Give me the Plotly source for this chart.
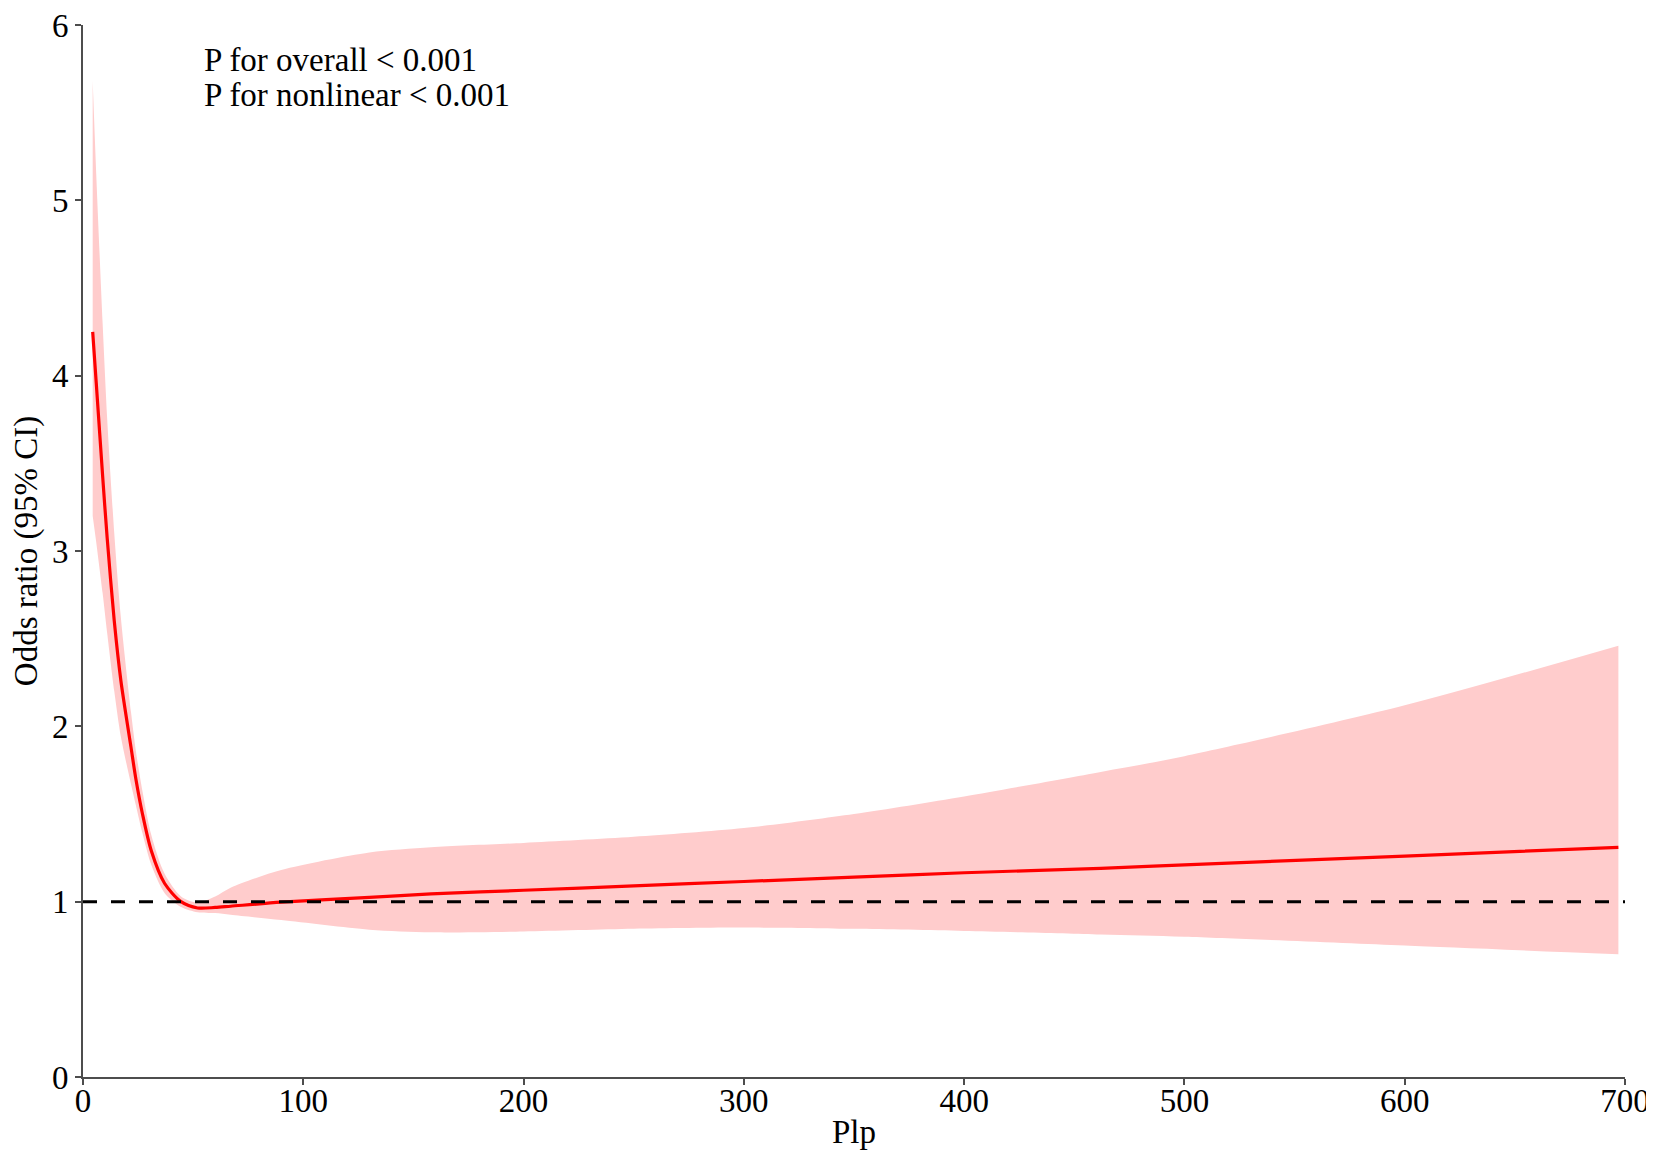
import plotly.graph_objects as go

# Restricted cubic spline: Plp vs. odds ratio (95% CI)
plp = [4.4, 6, 8.9, 11, 14.2, 17.2, 21.8, 24, 27, 31, 37, 44.5, 52, 60, 67,
       90, 130, 158, 200, 250, 300, 350, 400, 462, 500, 600, 697]
odds = [4.25, 3.96, 3.43, 3.07, 2.60, 2.26, 1.88, 1.70, 1.50, 1.29, 1.105, 1.00, 0.964, 0.967, 0.974,
        0.997, 1.025, 1.044, 1.065, 1.09, 1.115, 1.14, 1.165, 1.19, 1.21, 1.26, 1.31]
ci_upper = [5.68, 5.15, 4.30, 3.75, 3.10, 2.62, 2.08, 1.86, 1.63, 1.38, 1.16, 1.03, 0.995, 1.03, 1.08,
            1.18, 1.28, 1.31, 1.335, 1.37, 1.42, 1.50, 1.60, 1.74, 1.83, 2.12, 2.46]
ci_lower = [3.20, 3.05, 2.76, 2.53, 2.20, 1.94, 1.67, 1.55, 1.39, 1.21, 1.05, 0.97, 0.94, 0.935, 0.925,
            0.895, 0.84, 0.825, 0.83, 0.845, 0.852, 0.845, 0.833, 0.813, 0.80, 0.75, 0.70]

x_ticks = [0, 100, 200, 300, 400, 500, 600, 700]
y_ticks = [0, 1, 2, 3, 4, 5, 6]

FONT = "Liberation Serif, Times New Roman, serif"
AXIS = "#4d4d4d"
FS = 33

fig = go.Figure()

# Konfidenzband
fig.add_trace(go.Scatter(
    x=plp, y=ci_upper, mode="lines",
    line=dict(width=0, shape="spline", smoothing=0.8),
    hoverinfo="skip", showlegend=False,
))
fig.add_trace(go.Scatter(
    x=plp, y=ci_lower, mode="lines", fill="tonexty",
    fillcolor="#FFCCCC",
    line=dict(width=0, shape="spline", smoothing=0.8),
    hoverinfo="skip", showlegend=False,
))

# Referenzlinie OR = 1
fig.add_hline(y=1, line=dict(color="black", width=3, dash="14px,14px"))

# Schaetzer
fig.add_trace(go.Scatter(
    x=plp, y=odds, mode="lines",
    line=dict(color="#FF0000", width=3.2, shape="spline", smoothing=0.8),
    showlegend=False,
))

fig.add_annotation(x=54, y=5.80, xref="x", yref="y", xanchor="left", yanchor="middle",
                   text="P for overall < 0.001", showarrow=False,
                   font=dict(family=FONT, size=FS, color="black"))
fig.add_annotation(x=54, y=5.60, xref="x", yref="y", xanchor="left", yanchor="middle",
                   text="P for nonlinear < 0.001", showarrow=False,
                   font=dict(family=FONT, size=FS, color="black"))

fig.update_layout(
    width=1654, height=1167,
    margin=dict(l=75, r=37, t=17, b=98),
    plot_bgcolor="white", paper_bgcolor="white",
    font=dict(family=FONT, size=FS, color="black"),
    showlegend=False,
)
fig.update_xaxes(
    range=[0, 700], tickvals=x_ticks, ticks="outside", ticklen=6, tickwidth=2,
    tickcolor=AXIS, showline=True, linecolor=AXIS, linewidth=2, automargin=False,
    showgrid=False, zeroline=False, ticklabelstandoff=-13, ticklabeloverflow="allow",
    title=dict(text="Plp", font=dict(family=FONT, size=FS), standoff=2),
    tickfont=dict(family=FONT, size=FS),
)
fig.update_yaxes(
    range=[0, 6], tickvals=y_ticks, ticks="outside", ticklen=6, tickwidth=2,
    tickcolor=AXIS, showline=True, linecolor=AXIS, linewidth=2, automargin=False,
    showgrid=False, zeroline=False, ticklabeloverflow="allow",
    title=dict(text="Odds ratio (95% CI)", font=dict(family=FONT, size=FS), standoff=4),
    tickfont=dict(family=FONT, size=FS),
)

fig.write_html("out.html")
